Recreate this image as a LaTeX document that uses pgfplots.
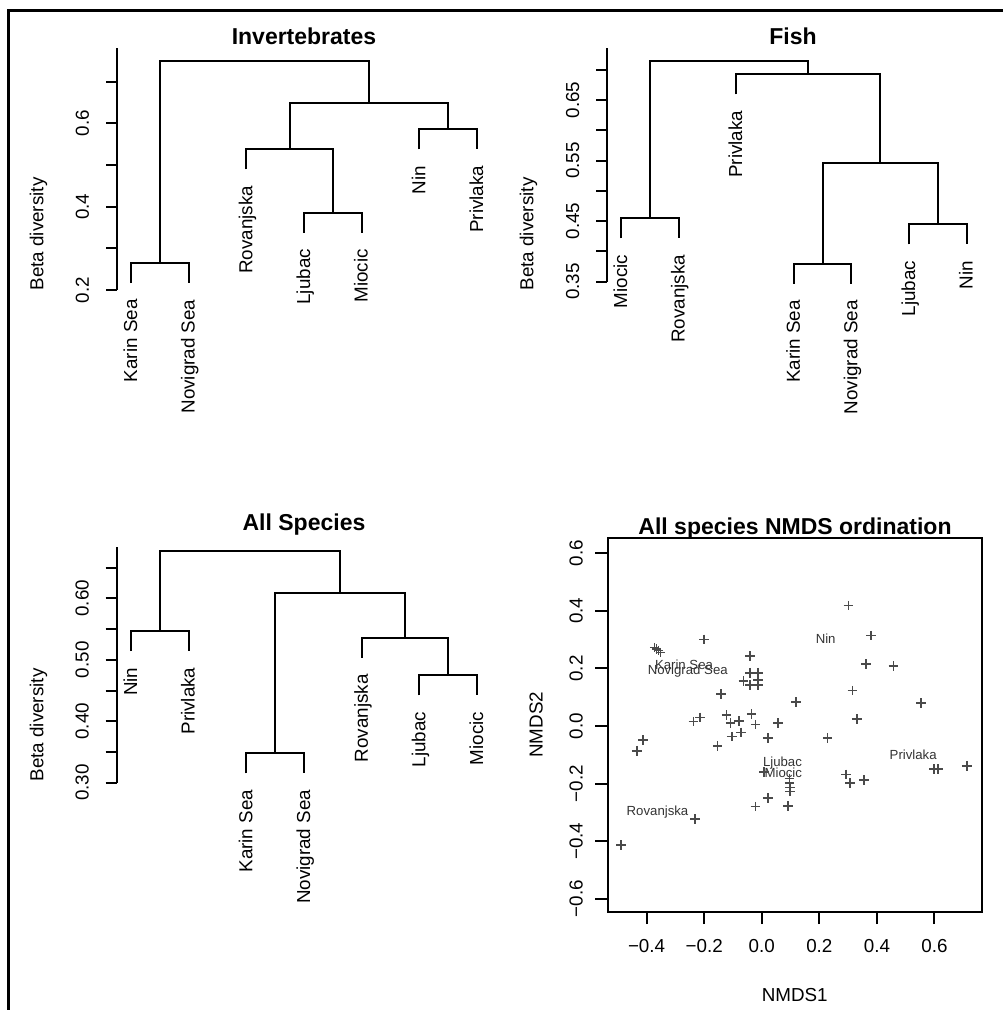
\documentclass[border=0pt]{standalone}
\usepackage{fontspec}
\setmainfont{Liberation Sans}
\usepackage{pgfplots}
\pgfplotsset{compat=1.18}
\definecolor{ptgray}{HTML}{4A4A4A}
\definecolor{lblgray}{HTML}{333333}
\pgfplotsset{
  dendro/.style={
    scale only axis, clip=false, anchor=south west,
    axis x line=none, axis y line*=left,
    xtick=\empty, tick pos=left,
    tick align=outside, major tick length=5.5pt,
    y axis line style={line width=1pt,-},
    every tick/.style={line width=1pt,black},
    yticklabel shift=8.3pt,
    yticklabel style={rotate=90,anchor=south,inner sep=0pt,font=\fontsize{9.4pt}{11pt}\selectfont},
  },
  dl/.style={black,line width=1pt,no marks},
}
\tikzset{
  leaf/.style={yshift=-8pt,rotate=90,anchor=east,inner sep=0pt,text height=0.6em,text depth=0pt,font=\fontsize{9.4pt}{11pt}\selectfont},
  ttl/.style={anchor=base,inner sep=0pt,font=\fontsize{11.5pt}{13pt}\selectfont\bfseries},
  ylab/.style={rotate=90,anchor=base,inner sep=0pt,font=\fontsize{9.4pt}{11pt}\selectfont},
}
\begin{document}
\begin{tikzpicture}
\useasboundingbox (0,0) rectangle (501.5pt,505pt);
\draw[line width=1.35pt] (4.35pt,0pt) -- (4.35pt,499.9pt) -- (501.5pt,499.9pt);

% ---------------- Invertebrates
\begin{axis}[dendro, at={(58.5pt,360pt)}, width=185.8pt, height=121pt,
  xmin=0.757, xmax=7.2, ymin=0.2, ymax=0.781,
  ytick={0.2,0.3,0.4,0.5,0.6,0.7}, yticklabels={0.2,,0.4,,0.6,}]
\addplot[dl] coordinates {(1,0.2165) (1,0.265) (2,0.265) (2,0.2165)};
\addplot[dl] coordinates {(4,0.3375) (4,0.386) (5,0.386) (5,0.3375)};
\addplot[dl] coordinates {(3,0.4895) (3,0.538) (4.5,0.538) (4.5,0.386)};
\addplot[dl] coordinates {(6,0.5375) (6,0.586) (7,0.586) (7,0.5375)};
\addplot[dl] coordinates {(3.75,0.538) (3.75,0.648) (6.5,0.648) (6.5,0.586)};
\addplot[dl] coordinates {(1.5,0.265) (1.5,0.750) (5.125,0.750) (5.125,0.648)};
\node[leaf] at (axis cs:1,0.2165) {Karin Sea};
\node[leaf] at (axis cs:2,0.2165) {Novigrad Sea};
\node[leaf] at (axis cs:3,0.4895) {Rovanjska};
\node[leaf] at (axis cs:4,0.3375) {Ljubac};
\node[leaf] at (axis cs:5,0.3375) {Miocic};
\node[leaf] at (axis cs:6,0.5375) {Nin};
\node[leaf] at (axis cs:7,0.5375) {Privlaka};
\end{axis}

% ---------------- Fish
\begin{axis}[dendro, at={(303.65pt,364.15pt)}, width=185.4pt, height=116.85pt,
  xmin=0.762, xmax=7.2, ymin=0.35, ymax=0.736,
  ytick={0.35,0.40,0.45,0.50,0.55,0.60,0.65,0.70}, yticklabels={0.35,,0.45,,0.55,,0.65,}]
\addplot[dl] coordinates {(1,0.4215) (1,0.455) (2,0.455) (2,0.4215)};
\addplot[dl] coordinates {(4,0.3465) (4,0.380) (5,0.380) (5,0.3465)};
\addplot[dl] coordinates {(6,0.4115) (6,0.445) (7,0.445) (7,0.4115)};
\addplot[dl] coordinates {(4.5,0.380) (4.5,0.546) (6.5,0.546) (6.5,0.445)};
\addplot[dl] coordinates {(3,0.6595) (3,0.693) (5.5,0.693) (5.5,0.546)};
\addplot[dl] coordinates {(1.5,0.455) (1.5,0.715) (4.25,0.715) (4.25,0.693)};
\node[leaf] at (axis cs:1,0.4215) {Miocic};
\node[leaf] at (axis cs:2,0.4215) {Rovanjska};
\node[leaf] at (axis cs:3,0.6595) {Privlaka};
\node[leaf] at (axis cs:4,0.3465) {Karin Sea};
\node[leaf] at (axis cs:5,0.3465) {Novigrad Sea};
\node[leaf] at (axis cs:6,0.4115) {Ljubac};
\node[leaf] at (axis cs:7,0.4115) {Nin};
\end{axis}

% ---------------- All Species
\begin{axis}[dendro, at={(58.35pt,113.65pt)}, width=186pt, height=118pt,
  xmin=0.752, xmax=7.2, ymin=0.30, ymax=0.684,
  ytick={0.30,0.35,0.40,0.45,0.50,0.55,0.60,0.65}, yticklabels={0.30,,0.40,,0.50,,0.60,}]
\addplot[dl] coordinates {(1,0.514) (1,0.547) (2,0.547) (2,0.514)};
\addplot[dl] coordinates {(3,0.315) (3,0.348) (4,0.348) (4,0.315)};
\addplot[dl] coordinates {(6,0.442) (6,0.475) (7,0.475) (7,0.442)};
\addplot[dl] coordinates {(5,0.503) (5,0.536) (6.5,0.536) (6.5,0.475)};
\addplot[dl] coordinates {(3.5,0.348) (3.5,0.608) (5.75,0.608) (5.75,0.536)};
\addplot[dl] coordinates {(1.5,0.547) (1.5,0.677) (4.625,0.677) (4.625,0.608)};
\node[leaf] at (axis cs:1,0.514) {Nin};
\node[leaf] at (axis cs:2,0.514) {Privlaka};
\node[leaf] at (axis cs:3,0.315) {Karin Sea};
\node[leaf] at (axis cs:4,0.315) {Novigrad Sea};
\node[leaf] at (axis cs:5,0.503) {Rovanjska};
\node[leaf] at (axis cs:6,0.442) {Ljubac};
\node[leaf] at (axis cs:7,0.442) {Miocic};
\end{axis}

% ---------------- NMDS
\begin{axis}[scale only axis, anchor=south west, at={(303.85pt,49.15pt)},
  width=187pt, height=187pt, clip=false,
  xmin=-0.535, xmax=0.764, ymin=-0.645, ymax=0.654,
  tick pos=left, tick align=outside, major tick length=6.2pt,
  axis line style={line width=1pt},
  every tick/.style={line width=1pt,black},
  xtick={-0.4,-0.2,0,0.2,0.4,0.6},
  xticklabels={−0.4,−0.2,0.0,0.2,0.4,0.6},
  ytick={-0.6,-0.4,-0.2,0,0.2,0.4,0.6},
  yticklabels={−0.6,−0.4,−0.2,0.0,0.2,0.4,0.6},
  xticklabel shift=7.5pt, yticklabel shift=6pt,
  xticklabel style={anchor=north,inner sep=0pt,font=\fontsize{9.4pt}{11pt}\selectfont},
  yticklabel style={rotate=90,anchor=south,inner sep=0pt,font=\fontsize{9.4pt}{11pt}\selectfont},
]
\addplot[only marks, mark=+, mark size=2.4pt, mark options={ptgray,line width=0.8pt}] coordinates {
(0.301,0.418) (0.380,0.314) (0.362,0.215) (0.457,0.209) (0.315,0.123)
(0.553,0.079) (0.330,0.024) (0.229,-0.041) (0.119,0.083) (0.056,0.010)
(0.021,-0.041) (-0.021,0.005) (-0.035,0.042) (-0.073,-0.022) (-0.078,0.018)
(-0.108,0.011) (-0.122,0.038) (-0.104,-0.037) (-0.153,-0.069) (-0.141,0.111)
(-0.041,0.243) (-0.041,0.185) (-0.012,0.185) (-0.064,0.156) (-0.012,0.160)
(-0.041,0.142) (-0.012,0.142) (-0.200,0.301) (-0.237,0.015) (-0.214,0.030)
(-0.413,-0.049) (-0.434,-0.086) (-0.372,0.272) (-0.365,0.268) (-0.358,0.262)
(-0.352,0.255) (-0.232,-0.324) (-0.022,-0.280) (0.021,-0.251) (0.092,-0.278)
(0.008,-0.159) (0.096,-0.182) (0.096,-0.199) (0.099,-0.213) (0.099,-0.228)
(0.292,-0.168) (0.307,-0.197) (0.356,-0.188) (0.599,-0.150) (0.613,-0.150)
(0.712,-0.138) (-0.489,-0.413)
};
\begin{scope}[every node/.style={text=lblgray,inner sep=0pt,font=\fontsize{6.6pt}{8pt}\selectfont}]
\node at (axis cs:0.222,0.302) {Nin};
\node at (axis cs:-0.270,0.214) {Karin Sea};
\node at (axis cs:-0.257,0.191) {Novigrad Sea};
\node at (axis cs:0.526,-0.101) {Privlaka};
\node at (axis cs:0.072,-0.130) {Ljubac};
\node at (axis cs:0.075,-0.162) {Miocic};
\node at (axis cs:-0.362,-0.298) {Rovanjska};
\end{scope}
\end{axis}

% titles and axis labels
\node[ttl] at (152pt,482.5pt) {Invertebrates};
\node[ttl] at (396.5pt,482.5pt) {Fish};
\node[ttl] at (152pt,239.65pt) {All Species};
\node[ttl] at (397.5pt,237.5pt) {All species NMDS ordination};
\node[ylab] at (21.65pt,388pt) {Beta diversity};
\node[ylab] at (266.65pt,388pt) {Beta diversity};
\node[ylab] at (21.65pt,142.5pt) {Beta diversity};
\node[ylab] at (271.25pt,142.65pt) {NMDS2};
\node[anchor=base,inner sep=0pt,font=\fontsize{9.4pt}{11pt}\selectfont] at (397.35pt,4.15pt) {NMDS1};
\end{tikzpicture}
\end{document}
